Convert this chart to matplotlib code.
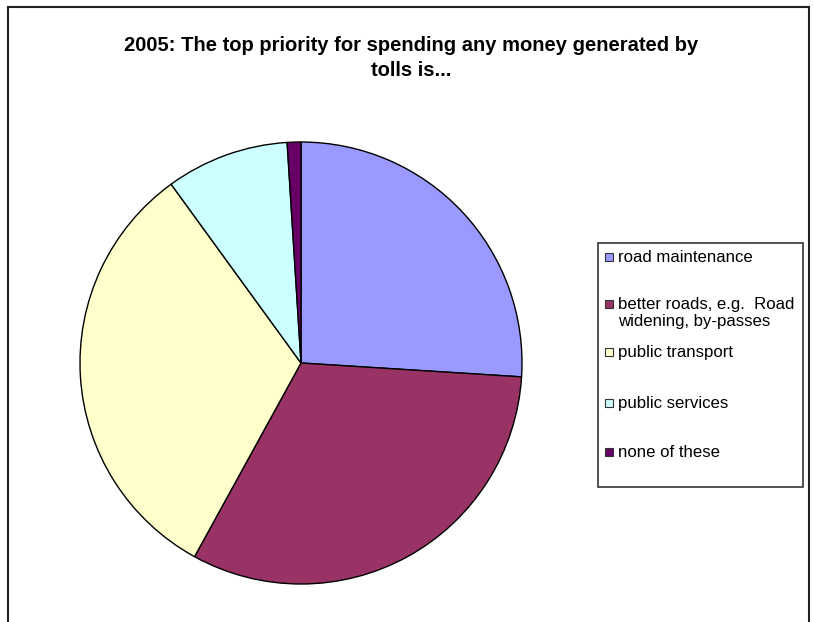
import matplotlib
matplotlib.use("Agg")
import matplotlib.pyplot as plt
from matplotlib.lines import Line2D
from matplotlib.patches import Rectangle

plt.rcParams['font.family'] = ['Liberation Sans', 'DejaVu Sans']

title = "2005: The top priority for spending any money generated by\ntolls is..."
labels = [
    "road maintenance",
    "better roads, e.g.  Road\nwidening, by-passes",
    "public transport",
    "public services",
    "none of these",
]
shares = [26, 32, 32, 9, 1]
colors = ["#9999FF", "#993366", "#FFFFCC", "#CCFFFF", "#660066"]

W, H = 813, 622
fig = plt.figure(figsize=(W / 100, H / 100), dpi=100)


def fx(px):
    return px / W


def fy(py):
    return 1 - py / H


# chart frame: left, top and right edges only
frame = dict(color="#222222", lw=1.5)
fig.add_artist(Line2D([fx(8), fx(8)], [fy(7), -0.05], **frame))
fig.add_artist(Line2D([fx(8), fx(809)], [fy(7), fy(7)], **frame))
fig.add_artist(Line2D([fx(809), fx(809)], [fy(7), -0.05], **frame))

fig.text(fx(411), fy(58), title, ha="center", va="center",
         fontsize=14.5, fontweight="bold", linespacing=1.45)

# pie
cx, cy, r = 301, 363, 221
ax = fig.add_axes([fx(cx - r), fy(cy + r), fx(2 * r), 2 * r / H])
ax.pie(shares, colors=colors, startangle=90, counterclock=False,
       wedgeprops=dict(edgecolor="black", linewidth=1.0))
ax.set_xlim(-1.0, 1.0)
ax.set_ylim(-1.0, 1.0)
ax.axis("off")

# legend box
lx0, ly0, lx1, ly1 = 598, 243, 803, 487
fig.add_artist(Rectangle((fx(lx0), fy(ly1)), fx(lx1 - lx0), (ly1 - ly0) / H,
                         transform=fig.transFigure, fill=False,
                         edgecolor="#333333", lw=1.2))
entry_y = [257, 304, 352, 403, 452]
for lab, col, y in zip(labels, colors, entry_y):
    fig.add_artist(Rectangle((fx(605), fy(y + 4)), fx(8), 8 / H,
                             transform=fig.transFigure, facecolor=col,
                             edgecolor="#333333", lw=0.8))
    fig.text(fx(618), fy(y - 7), lab, ha="left", va="top",
             fontsize=12.1, linespacing=1.2)

fig.savefig("out.png", dpi=100, facecolor="white")
